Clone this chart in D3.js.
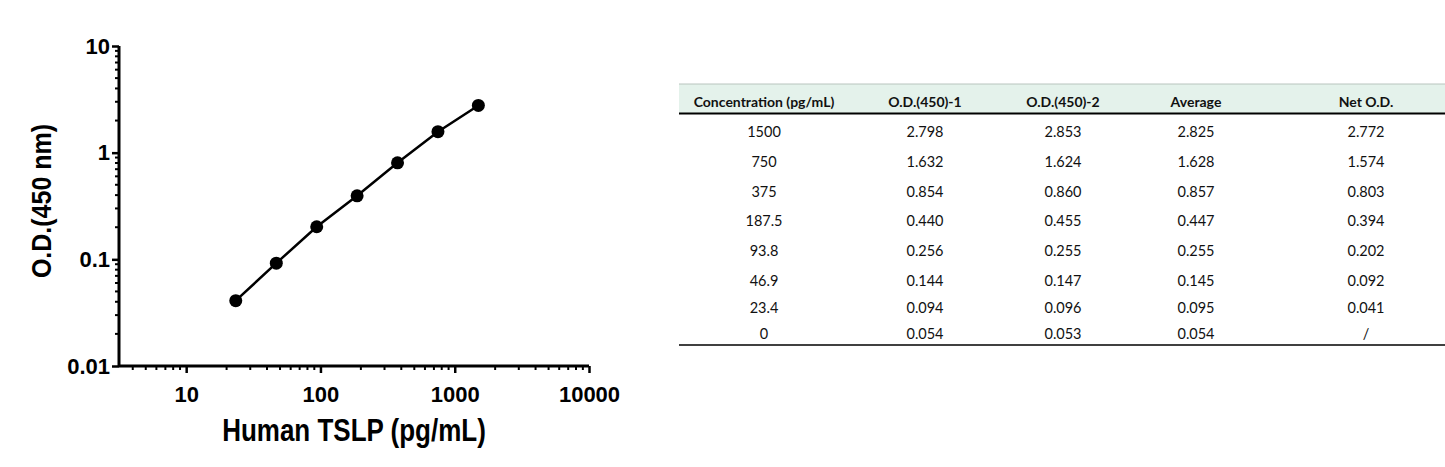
<!DOCTYPE html>
<html>
<head>
	<script src="https://cdn.jsdelivr.net/npm/d3@7"></script>
	<style>
		body { margin: 0; background: #fff; }
	</style>
</head>
<body>
	<script>
		// standard curve data
		var conc = [23.4, 46.9, 93.8, 187.5, 375, 750, 1500];
		var netOD = [0.041, 0.092, 0.202, 0.394, 0.803, 1.574, 2.772];

		var xTicks = [10, 100, 1000, 10000];
		var yTicks = [0.01, 0.1, 1, 10];

		// table
		var headers = ["Concentration (pg/mL)", "O.D.(450)-1", "O.D.(450)-2", "Average", "Net O.D."];
		var colConc = ["1500", "750", "375", "187.5", "93.8", "46.9", "23.4", "0"];
		var colOD1 = ["2.798", "1.632", "0.854", "0.440", "0.256", "0.144", "0.094", "0.054"];
		var colOD2 = ["2.853", "1.624", "0.860", "0.455", "0.255", "0.147", "0.096", "0.053"];
		var colAvg = ["2.825", "1.628", "0.857", "0.447", "0.255", "0.145", "0.095", "0.054"];
		var colNet = ["2.772", "1.574", "0.803", "0.394", "0.202", "0.092", "0.041", "/"];

		var W = 1445, H = 467;
		var svg = d3.select('body').append('svg')
			.attr('width', W)
			.attr('height', H);

		var x = d3.scaleLog().domain([3.16, 10000]).range([119, 589]);
		var y = d3.scaleLog().domain([0.01, 10]).range([366, 46]);

		var font = "'Liberation Sans', Arial, sans-serif";

		// minor ticks
		var xMinor = [];
		for (var d = 1; d <= 1000; d *= 10) {
			for (var k = 2; k <= 9; k++) {
				var v = k * d;
				if (v >= 3.16 && v < 10000 && xTicks.indexOf(v) < 0) xMinor.push(v);
			}
		}
		var yMinor = [];
		for (var d = 0.01; d < 5; d *= 10) {
			for (var k = 2; k <= 9; k++) yMinor.push(+(k * d).toPrecision(3));
		}

		var g = svg.append('g');

		g.selectAll('.xminor').data(xMinor).enter().append('line')
			.attr('x1', function(d) { return x(d); })
			.attr('x2', function(d) { return x(d); })
			.attr('y1', 366).attr('y2', 370)
			.attr('stroke', '#000').attr('stroke-width', 2);

		g.selectAll('.yminor').data(yMinor).enter().append('line')
			.attr('y1', function(d) { return y(d); })
			.attr('y2', function(d) { return y(d); })
			.attr('x1', 115).attr('x2', 119)
			.attr('stroke', '#000').attr('stroke-width', 2);

		var xAxis = d3.axisBottom(x).tickValues(xTicks).tickFormat(d3.format('d')).tickSize(7).tickPadding(13);
		var yAxis = d3.axisLeft(y).tickValues(yTicks).tickFormat(function(d) { return String(d); }).tickSize(7).tickPadding(2);

		var gx = svg.append('g').attr('transform', 'translate(0,366)').call(xAxis);
		var gy = svg.append('g').attr('transform', 'translate(119,0)').call(yAxis);

		[gx, gy].forEach(function(a) {
			a.select('.domain').attr('stroke', '#000').attr('stroke-width', 3);
			a.selectAll('.tick line').attr('stroke', '#000').attr('stroke-width', 2.5);
			a.selectAll('.tick text')
				.attr('fill', '#000')
				.style('font-family', font)
				.style('font-weight', 'bold')
				.style('font-size', '22px');
		});
		gx.select('.domain').attr('d', 'M119,0H589');
		gy.select('.domain').attr('d', 'M0,46V366');

		// axis titles (slightly stretched vertically like the original)
		svg.append('text')
			.attr('transform', 'translate(354,441) scale(1,1.18)')
			.attr('text-anchor', 'middle')
			.style('font-family', font).style('font-weight', 'bold').style('font-size', '26px')
			.text('Human TSLP (pg/mL)');

		svg.append('text')
			.attr('transform', 'translate(51,201) rotate(-90) scale(1,1.12)')
			.attr('text-anchor', 'middle')
			.style('font-family', font).style('font-weight', 'bold').style('font-size', '25px')
			.text('O.D.(450 nm)');

		// line + points
		var pts = conc.map(function(c, i) { return [c, netOD[i]]; });
		var line = d3.line().x(function(d) { return x(d[0]); }).y(function(d) { return y(d[1]); });

		svg.append('path')
			.datum(pts)
			.attr('d', line)
			.attr('fill', 'none')
			.attr('stroke', '#000')
			.attr('stroke-width', 2.5);

		svg.selectAll('.pt').data(pts).enter().append('circle')
			.attr('cx', function(d) { return x(d[0]); })
			.attr('cy', function(d) { return y(d[1]); })
			.attr('r', 6.5)
			.attr('fill', '#000');

		// table
		var tFont = "Lato, 'Open Sans', sans-serif";
		var colX = d3.scaleOrdinal().domain(headers).range([764, 925, 1063, 1196, 1366]);
		var rowY = d3.scaleLinear().domain([0, 5, 7]).range([132, 281, 334]);

		svg.append('rect')
			.attr('x', 679).attr('y', 84).attr('width', W - 679).attr('height', 29)
			.attr('fill', '#e4f2eb');
		svg.append('line')
			.attr('x1', 679).attr('x2', W).attr('y1', 84).attr('y2', 84)
			.attr('stroke', '#b8c4be').attr('stroke-width', 1);
		svg.append('line')
			.attr('x1', 679).attr('x2', W).attr('y1', 113.5).attr('y2', 113.5)
			.attr('stroke', '#000').attr('stroke-width', 2);
		svg.append('line')
			.attr('x1', 679).attr('x2', W).attr('y1', 345).attr('y2', 345)
			.attr('stroke', '#000').attr('stroke-width', 1.5);

		svg.selectAll('.th').data(headers).enter().append('text')
			.attr('x', function(d) { return colX(d); })
			.attr('y', 107)
			.attr('text-anchor', 'middle')
			.style('font-family', tFont).style('font-weight', 'bold').style('font-size', '14px')
			.attr('fill', '#111')
			.text(function(d) { return d; });

		var cols = [colConc, colOD1, colOD2, colAvg, colNet];
		cols.forEach(function(col, ci) {
			svg.selectAll('.c' + ci).data(col).enter().append('text')
				.attr('x', colX(headers[ci]))
				.attr('y', function(d, i) { return rowY(i) + 5; })
				.attr('text-anchor', 'middle')
				.style('font-family', tFont).style('font-size', '14.5px')
				.attr('fill', '#111')
				.text(function(d) { return d; });
		});
	</script>
</body>
</html>
